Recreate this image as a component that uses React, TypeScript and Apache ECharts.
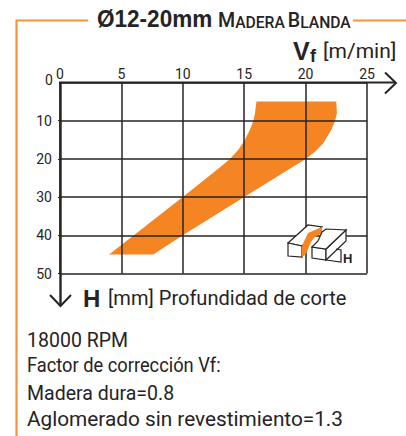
import React, { useEffect, useRef } from "react";
import * as echarts from "echarts";

const xTicks = [0, 5, 10, 15, 20, 25];
const yTicks = [0, 10, 20, 30, 40, 50];
// Region outline [Vf m/min, H mm]
const upperEdge: [number, number][] = [
  [16, 5], [22.5, 5], [22.55, 8], [22.4, 10], [22.1, 12.4], [21.44, 15.9], [20.77, 18.1], [20, 20], [15, 30], [10, 40], [7.6, 45],
];
const lowerEdge: [number, number][] = [
  [4, 45], [10, 30], [11.94, 25], [13.03, 22.2], [13.84, 20], [14.52, 17.6], [15, 15.4], [15.47, 12.4], [15.75, 10], [15.88, 8], [15.93, 6.7],
];
const infoLines = ["18000 RPM", "Factor de corrección Vf:", "Madera dura=0.8", "Aglomerado sin revestimiento=1.3"];
const infoTop = [329, 355, 382, 408];
const infoScale = [0.93, 0.87, 0.93, 0.99];

const FONT = "Roboto,'Liberation Sans',sans-serif";
const BOLD = "'Liberation Sans',sans-serif";
const ORANGE = "#F58423";
const FRAME = "#F7943A";
const DARK = "#262324";

const poly = (points: number[][], fill: string) => ({
  type: "polygon",
  z: 20,
  shape: { points },
  style: { fill, stroke: fill === ORANGE ? "none" : DARK, lineWidth: 1.2 },
});

export default function App() {
  const ref = useRef<HTMLDivElement>(null);
  useEffect(() => {
    const chart = echarts.init(ref.current!, undefined, { renderer: "svg" });
    const outline = [...upperEdge, ...lowerEdge];
    chart.setOption({
      animation: false,
      grid: { left: 60, top: 82.5, width: 307, height: 191, containLabel: false },
      xAxis: {
        type: "value", position: "top", min: 0, max: 25, interval: 5, z: 3,
        axisLine: { show: false },
        axisTick: { show: false },
        axisLabel: {
          show: true, margin: 2, color: DARK, fontSize: 14, fontFamily: FONT,
          showMinLabel: true, showMaxLabel: true,
          formatter: (v: number) => (xTicks.includes(v) ? String(v) : ""),
        },
        splitLine: { show: true, lineStyle: { color: DARK, width: 1.5 } },
      },
      yAxis: {
        type: "value", inverse: true, min: 0, max: 50, interval: 10, z: 3,
        axisLine: { show: false },
        axisTick: { show: true, length: 2, lineStyle: { color: DARK, width: 1.2 } },
        axisLabel: {
          show: true, margin: 8, color: DARK, fontSize: 14, fontFamily: FONT,
          padding: [0, 0, 6, 0],
          showMinLabel: false, showMaxLabel: true,
          formatter: (v: number) => (yTicks.includes(v) ? String(v) : ""),
        },
        splitLine: { show: true, lineStyle: { color: DARK, width: 1.5 } },
      },
      series: [
        {
          type: "custom",
          z: 1,
          data: outline,
          encode: { x: 0, y: 1 },
          silent: true,
          renderItem: (_p: any, api: any) => {
            if (_p.dataIndex !== 0) return null;
            return {
              type: "polygon",
              shape: { points: outline.map((p) => api.coord(p)) },
              style: { fill: ORANGE },
            };
          },
        },
      ],
      graphic: [
        // y-axis zero label, set apart from the others in the reference
        { type: "text", x: 45, y: 73, style: { text: String(yTicks[0]), fontFamily: FONT, fontSize: 14, fill: DARK } },
        // frame
        { type: "polyline", shape: { points: [[88, 20.5], [16.5, 20.5], [16.5, 436]] }, style: { stroke: FRAME, lineWidth: 2.2, fill: "none" } },
        { type: "line", shape: { x1: 353, y1: 20.5, x2: 406, y2: 20.5 }, style: { stroke: FRAME, lineWidth: 2.2 } },
        // axes with arrows
        { type: "line", z: 10, shape: { x1: 59, y1: 82.5, x2: 395, y2: 82.5 }, style: { stroke: DARK, lineWidth: 2 } },
        { type: "polyline", z: 10, shape: { points: [[385, 72.5], [396, 83], [385, 93.5]] }, style: { stroke: DARK, lineWidth: 2, fill: "none" } },
        { type: "line", z: 10, shape: { x1: 60.5, y1: 82, x2: 60.5, y2: 305 }, style: { stroke: DARK, lineWidth: 2.4 } },
        { type: "polyline", z: 10, shape: { points: [[50, 295], [60.5, 306], [71, 295]] }, style: { stroke: DARK, lineWidth: 2, fill: "none" } },
        // title
        { type: "text", x: 97, y: 7, scaleX: 0.98, style: { text: "Ø12-20mm", fontFamily: BOLD, fontWeight: "bold", fontSize: 23, fill: DARK } },
        {
          type: "text", x: 218, y: 10, scaleX: 0.98,
          style: {
            text: "{a|M}{b|ADERA} {a|B}{b|LANDA}",
            fontFamily: FONT, fill: DARK,
            rich: {
              a: { fontSize: 20, fontFamily: FONT, fontWeight: 500, fill: DARK, verticalAlign: "bottom" },
              b: { fontSize: 16, fontFamily: FONT, fontWeight: 500, fill: DARK, verticalAlign: "bottom" },
            },
          },
        },
        // axis names
        { type: "text", x: 293, y: 38, style: { text: "V", fontFamily: BOLD, fontWeight: "bold", fontSize: 25, fill: DARK } },
        { type: "text", x: 310, y: 47, style: { text: "f", fontFamily: BOLD, fontWeight: "bold", fontSize: 18, fill: DARK } },
        { type: "text", x: 323, y: 40, style: { text: "[m/min]", fontFamily: FONT, fontSize: 21, fill: DARK } },
        { type: "text", x: 83, y: 286, style: { text: "H", fontFamily: BOLD, fontWeight: "bold", fontSize: 24, fill: DARK } },
        { type: "text", x: 108, y: 287, scaleX: 0.955, style: { text: "[mm] Profundidad de corte", fontFamily: FONT, fontSize: 21, fill: DARK } },
        // info text
        ...infoLines.map((t, i) => ({
          type: "text", x: 27, y: infoTop[i], scaleX: infoScale[i],
          style: { text: t, fontFamily: FONT, fontSize: 21, fill: DARK },
        })),
        // small workpiece icon
        poly([[288, 243], [308, 225], [322, 227], [302, 246]], "#fff"),
        poly([[288, 243], [302, 246], [302, 257], [288, 256]], "#fff"),
        poly([[302, 246], [308, 233], [322, 227], [322, 233], [315, 237], [311, 242], [306, 254], [302, 257]], ORANGE),
        poly([[312, 247], [326, 249], [326, 260], [312, 258]], "#fff"),
        poly([[326, 249], [346, 230], [346, 241], [326, 260]], "#fff"),
        poly([[312, 247], [318, 241], [322, 232], [326, 229], [346, 230], [326, 249]], "#fff"),
        { type: "polyline", z: 20, shape: { points: [[326, 260], [341, 262], [341, 250], [336, 249]] }, style: { stroke: DARK, lineWidth: 1.2, fill: "none" } },
        { type: "text", z: 20, x: 343, y: 252, style: { text: "H", fontFamily: BOLD, fontWeight: "bold", fontSize: 13, fill: DARK } },
      ],
    });
    return () => chart.dispose();
  }, []);
  return <div ref={ref} style={{ position: "absolute", left: 0, top: 0, width: 406, height: 436 }} />;
}
